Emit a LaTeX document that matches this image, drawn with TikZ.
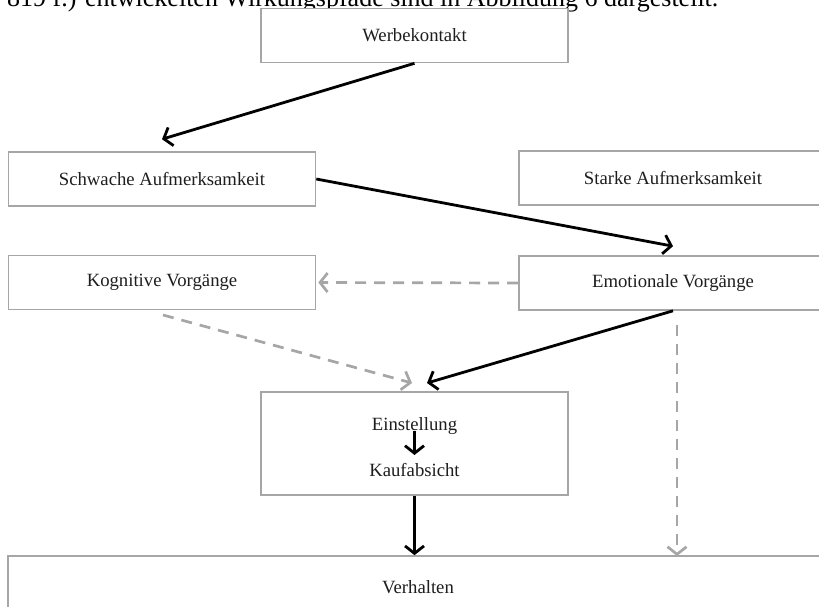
\documentclass[tikz,border=0pt]{standalone}
\usepackage{fontspec}
\setmainfont{Liberation Serif}
\usetikzlibrary{arrows.meta}
\definecolor{boxgray}{RGB}{166,166,166}
\definecolor{txt}{RGB}{30,30,30}
\tikzset{
  box/.style={draw=boxgray, line width=1.6pt, fill=white, minimum width=307pt, minimum height=54pt,
    inner sep=0pt, text=txt, font=\fontsize{18.7}{22}\selectfont},
  lbl/.style={text=txt, font=\fontsize{18.7}{22}\selectfont, inner sep=0pt, anchor=base},
  solidarrow/.style={draw=black, line width=2.8pt, -{Straight Barb[length=7.5pt, width=19pt, line width=2.8pt]}},
  dasharrow/.style={draw=boxgray, line width=2.7pt, dash pattern=on 11pt off 8pt,
    -{Straight Barb[length=7.5pt, width=19pt, line width=2.7pt]}},
}
\begin{document}
\begin{tikzpicture}[x=1pt, y=-1pt]
\useasboundingbox (0,0) rectangle (819,606);
\clip (0,0) rectangle (819,606);
% top cut-off text
\node[anchor=base west, inner sep=0pt, text=black, font=\fontsize{26}{30}\selectfont] (toptext) at (7,6.5)
  {819 f.) entwickelten Wirkungspfade sind in Abbildung 6 dargestellt.};
% boxes
\node[box] (wk) at (414.5,35.5) {Werbekontakt};
\node[box] (sa) at (162,179) {Schwache Aufmerksamkeit};
\node[box, minimum width=308pt] (st) at (673,178) {Starke Aufmerksamkeit};
\node[box] (kv) at (162,282.5) {Kognitive Vorgänge};
\node[box, minimum width=308pt] (ev) at (673,283) {Emotionale Vorgänge};
\node[box, minimum height=103pt] (ek) at (414.5,443.5) {};
\node[lbl] (ein) at (414.5,430) {Einstellung};
\node[lbl] (kauf) at (414.5,476) {Kaufabsicht};
\node[box, minimum width=820pt, minimum height=100pt] (vh) at (418,606) {};
\node[lbl] (vht) at (418,593) {Verhalten};
% free ends
\coordinate (tE) at (427,383);
\coordinate (tK) at (412,383);
\coordinate (dS) at (677,325);
\coordinate (dT) at (677,556);
\coordinate (kS) at (163,315);
\coordinate (iA) at (414.5,431);
\coordinate (iB) at (414.5,455);
% connectors
\draw[solidarrow] (wk.south) -- ([yshift=12pt]sa.north);
\draw[solidarrow] (sa.east) -- ([yshift=9pt]ev.north);
\draw[dasharrow] (ev.west) -- ([xshift=2pt]kv.east);
\draw[dasharrow] (kS) -- (tK);
\draw[solidarrow] (ev.south) -- (tE);
\draw[dasharrow] (dS) -- (dT);
\draw[solidarrow] (iA) -- (iB);
\draw[solidarrow] (ek.south) -- (ek.south |- vh.north);
\end{tikzpicture}
\end{document}
